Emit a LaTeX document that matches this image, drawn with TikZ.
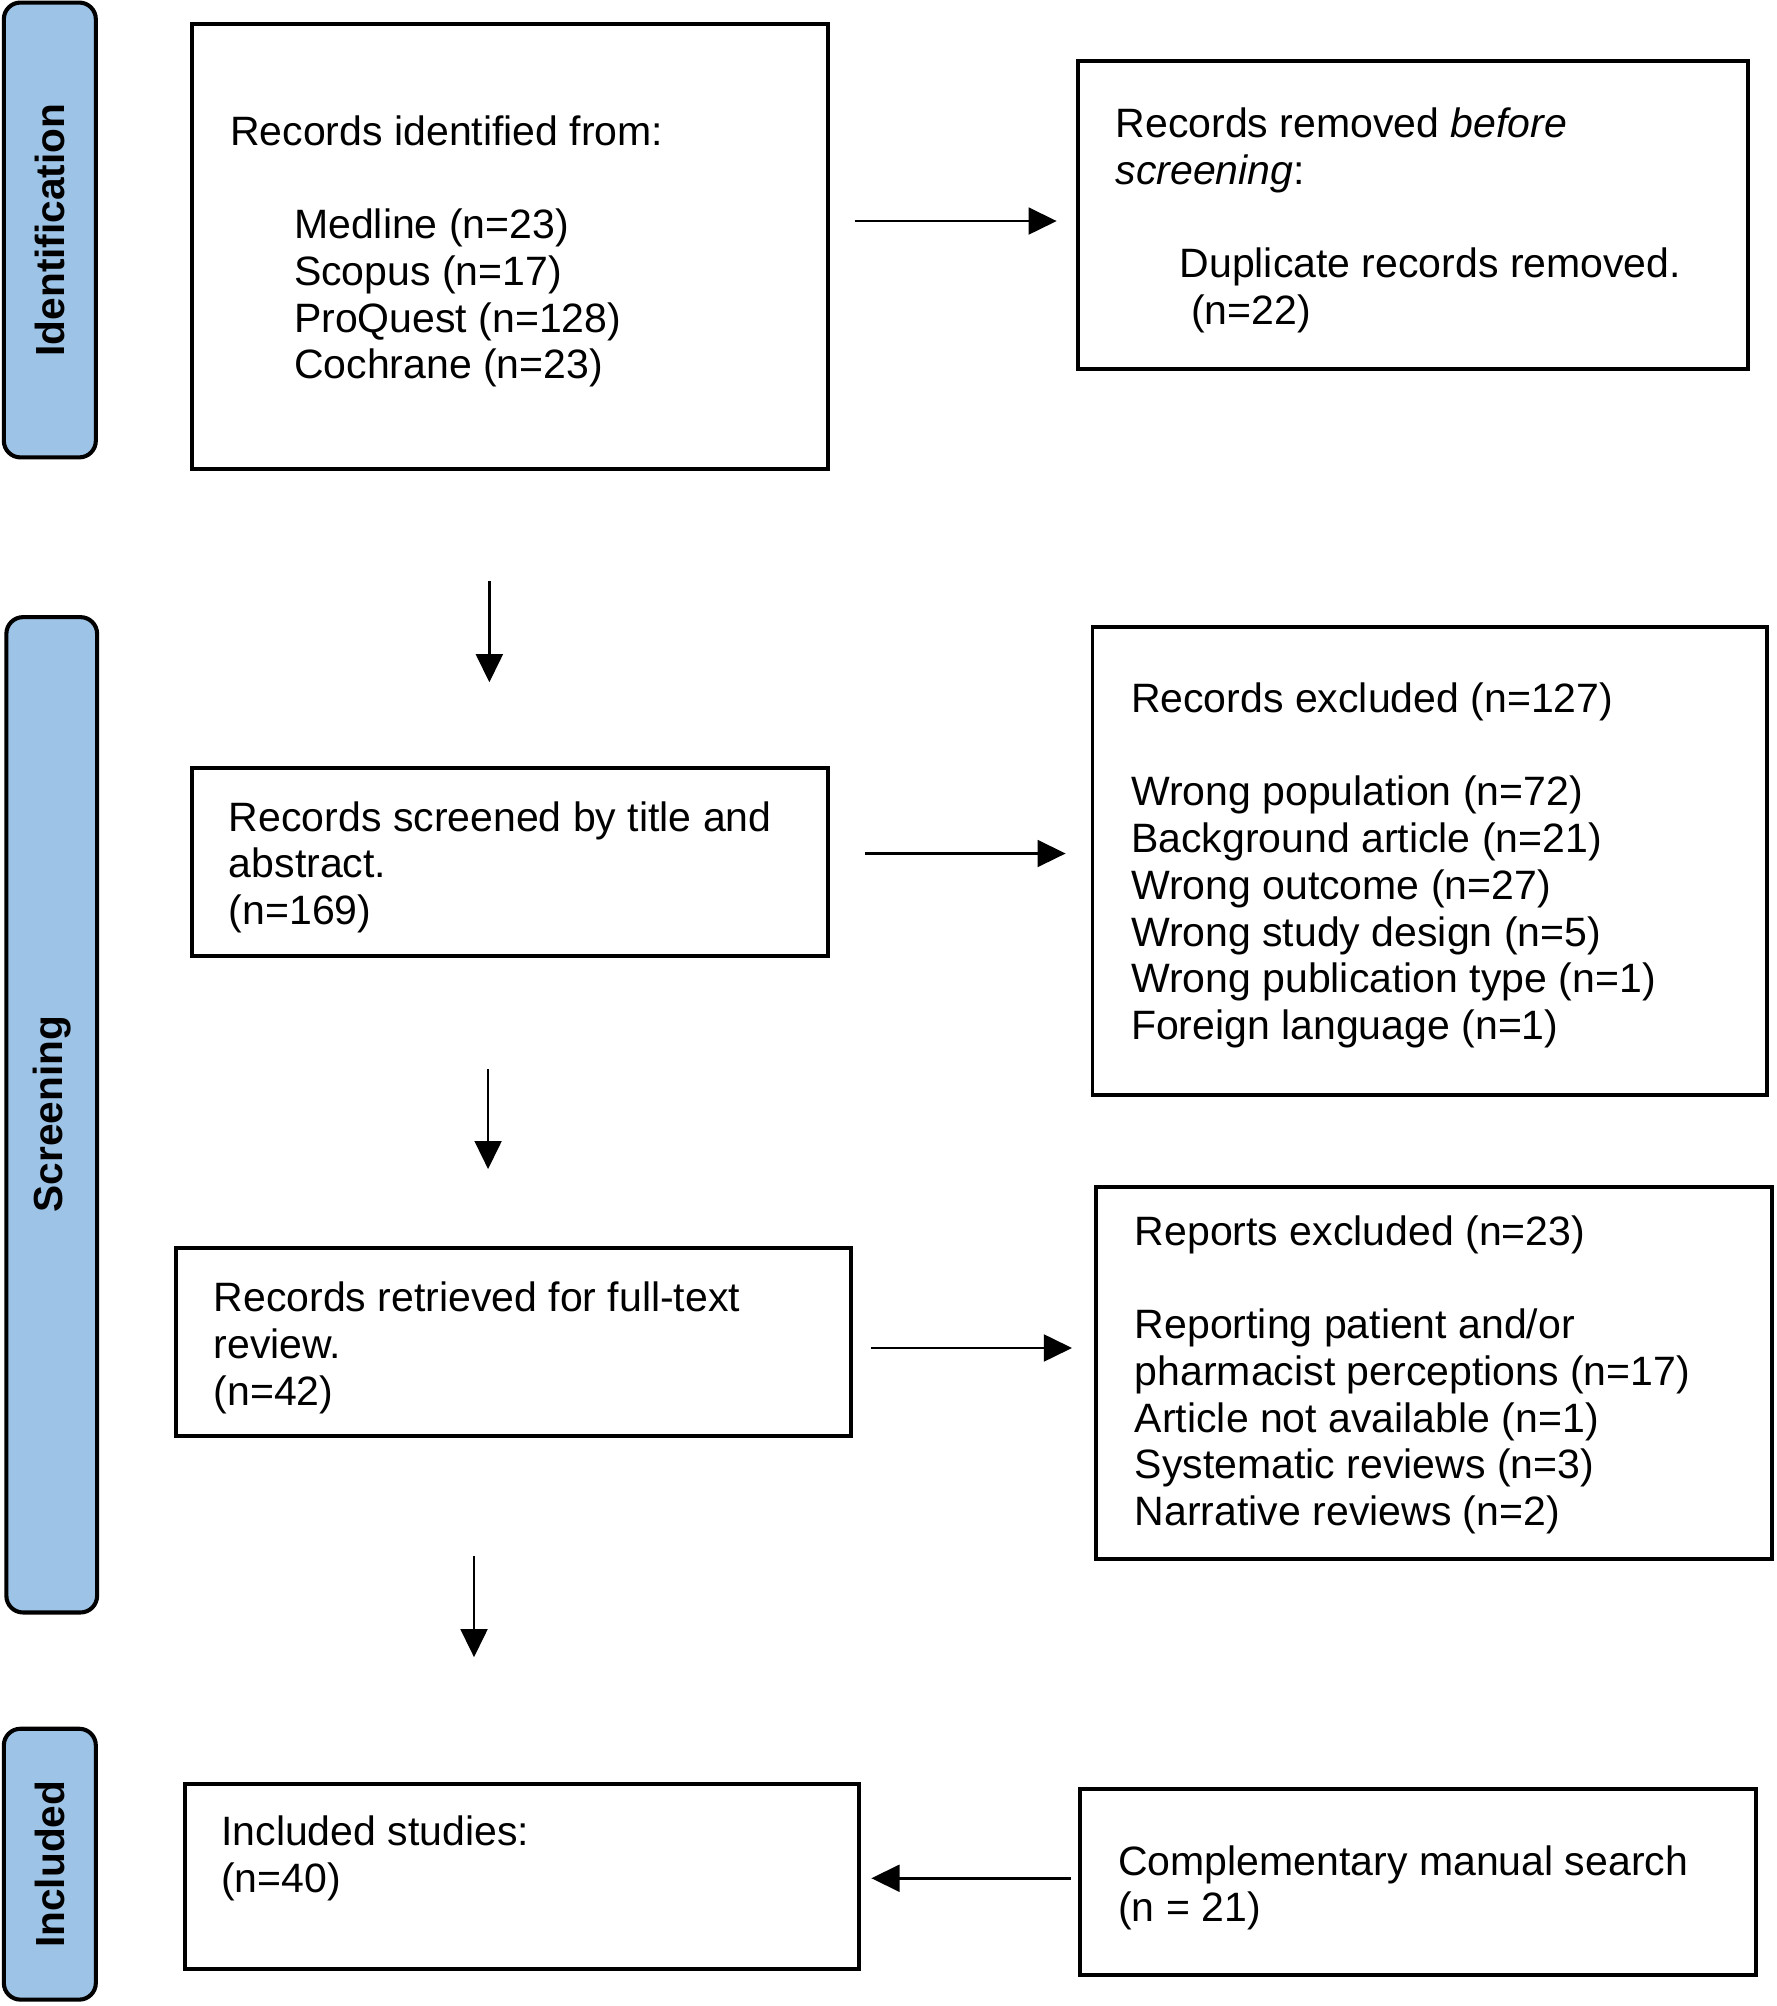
\documentclass[tikz,border=0pt]{standalone}
\usepackage{fontspec}
\setmainfont{Liberation Sans}
\usetikzlibrary{arrows.meta}
\definecolor{barblue}{HTML}{9DC3E6}
\newcommand{\tb}[1]{\begin{tabular}[t]{@{}l@{}}#1\end{tabular}}
\begin{document}
\begin{tikzpicture}[x=1pt,y=-1pt,
  box/.style={draw=black,line width=3pt},
  bar/.style={draw=black,fill=barblue,line width=3.2pt,rounded corners=13pt},
  barlabel/.style={rotate=90,inner sep=0pt,font=\fontsize{31.8}{36.6}\selectfont\bfseries},
  txt/.style={anchor=base west,inner sep=0pt,font=\fontsize{32.1}{36.6}\selectfont},
  arr/.style={line width=2pt,-{Triangle[length=22pt,width=21pt]}}]
\useasboundingbox (0,0) rectangle (1390,1570);
\fill[white] (0,0) rectangle (1390,1570);

% phase bars
\draw[bar] (3,2) rectangle (75,358);
\node[barlabel] (lid) at (39,180) {Identification};
\draw[bar] (5,483) rectangle (76,1262);
\node[barlabel] (lsc) at (40.5,872) {Screening};
\draw[bar] (3,1353) rectangle (75,1565);
\node[barlabel] (lin) at (39,1459) {Included};

% boxes
\draw[box] (150,19) rectangle (648,367);
\node[txt] (t1) at (180,113.5) {\tb{Records identified from:\\ \\
  \hspace{50pt}Medline (n=23)\\
  \hspace{50pt}Scopus (n=17)\\
  \hspace{50pt}ProQuest (n=128)\\
  \hspace{50pt}Cochrane (n=23)}};

\draw[box] (844,48) rectangle (1368,289);
\node[txt] (t2) at (873,107.5) {\tb{Records removed \textit{before}\\
  \textit{screening}:\\ \\
  \hspace{50pt}Duplicate records removed.\\
  \hspace{59pt}(n=22)}};

\draw[box] (150,601) rectangle (648,748);
\node[txt] (t3) at (179,650.5) {\tb{Records screened by title and\\ abstract.\\ (n=169)}};

\draw[box] (855,491) rectangle (1383,857);
\node[txt] (t4) at (885,557.5) {\tb{Records excluded (n=127)\\ \\
  Wrong population (n=72)\\
  Background article (n=21)\\
  Wrong outcome (n=27)\\
  Wrong study design (n=5)\\
  Wrong publication type (n=1)\\
  Foreign language (n=1)}};

\draw[box] (138,977) rectangle (666,1124);
\node[txt] (t5) at (167,1026.5) {\tb{Records retrieved for full-text\\ review.\\ (n=42)}};

\draw[box] (858,929) rectangle (1387,1220);
\node[txt] (t6) at (888,974.5) {\tb{Reports excluded (n=23)\\ \\
  Reporting patient and/or\\
  pharmacist perceptions (n=17)\\
  Article not available (n=1)\\
  Systematic reviews (n=3)\\
  Narrative reviews (n=2)}};

\draw[box] (145,1396) rectangle (672,1541);
\node[txt] (t7) at (173,1444.5) {\tb{Included studies:\\ (n=40)}};

\draw[box] (845,1400) rectangle (1374,1546);
\node[txt] (t8) at (875,1467.5) {\tb{Complementary manual search\\ (n = 21)}};

% arrows
\coordinate (a1s) at (669,173);  \coordinate (a1e) at (827,173);
\coordinate (a2s) at (383,455);  \coordinate (a2e) at (383,534);
\coordinate (a3s) at (677,668);  \coordinate (a3e) at (834,668);
\coordinate (a4s) at (382,837);  \coordinate (a4e) at (382,915);
\coordinate (a5s) at (682,1055); \coordinate (a5e) at (839,1055);
\coordinate (a6s) at (371,1218); \coordinate (a6e) at (371,1297);
\coordinate (a7s) at (838,1470); \coordinate (a7e) at (682,1470);
\foreach \i in {1,...,7} \draw[arr] (a\i s) -- (a\i e);
\end{tikzpicture}
\end{document}
